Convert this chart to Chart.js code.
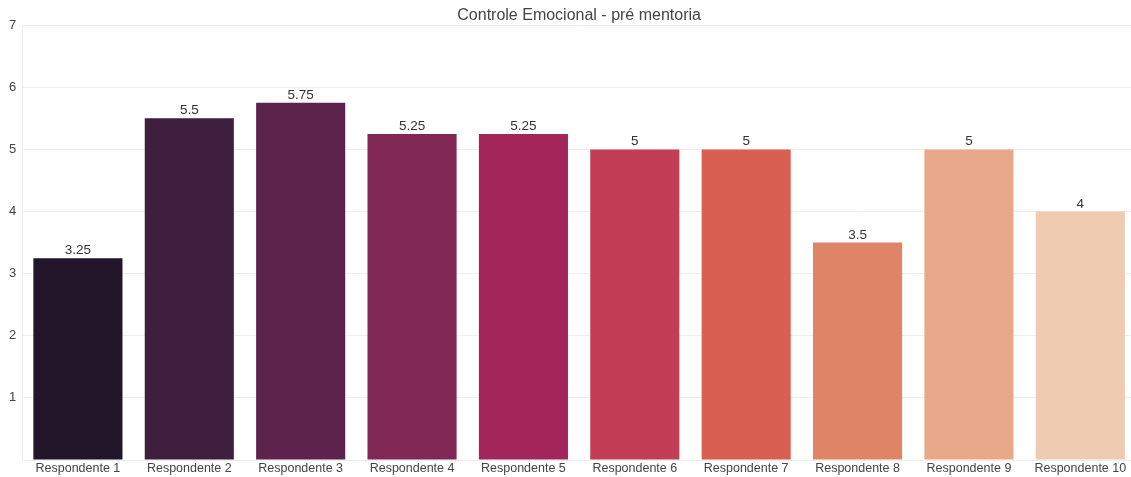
<!DOCTYPE html>
<html>
<head>
<meta charset="utf-8">
<script src="https://cdn.jsdelivr.net/npm/chart.js@4/dist/chart.umd.min.js"></script>
<style>
	html, body { margin: 0; padding: 0; background: #fff; overflow: hidden; }
	#wrap { width: 1140px; height: 477px; }
</style>
</head>
<body>
<div id="wrap"><canvas id="chart"></canvas></div>
<script>

const respondentes = [
	'Respondente 1', 'Respondente 2', 'Respondente 3', 'Respondente 4', 'Respondente 5',
	'Respondente 6', 'Respondente 7', 'Respondente 8', 'Respondente 9', 'Respondente 10'
];
const notas = [3.25, 5.5, 5.75, 5.25, 5.25, 5, 5, 3.5, 5, 4];
const cores = [
	'#211529', '#3e1f3d', '#5e234c', '#812756', '#a3265a',
	'#c23c54', '#d85f51', '#df8466', '#e7a98a', '#eecab1'
];
const yTicks = [0, 1, 2, 3, 4, 5, 6, 7];

const fonte = '"Liberation Sans", Arial, sans-serif';

// writes each bar's value just above it
const valueLabels = {
	id: 'valueLabels',
	afterDatasetsDraw(chart) {
		const ctx = chart.ctx;
		const meta = chart.getDatasetMeta(0);
		ctx.save();
		ctx.font = '13.5px ' + fonte;
		ctx.fillStyle = '#333333';
		ctx.textAlign = 'center';
		ctx.textBaseline = 'bottom';
		meta.data.forEach((bar, i) => {
			ctx.fillText(String(chart.data.datasets[0].data[i]), bar.x, bar.y - 1);
		});
		ctx.restore();
	}
};

new Chart(document.getElementById('chart'), {
	type: 'bar',
	plugins: [valueLabels],
	data: {
		labels: respondentes,
		datasets: [
			{
				data: notas,
				backgroundColor: cores,
				barPercentage: 0.8,
				categoryPercentage: 1.0
			}
		]
	},
	options: {
		responsive: true,
		maintainAspectRatio: false,
		animation: {
			duration: 0
		},
		layout: {
			padding: { left: 3, right: 4, top: 0, bottom: 0 }
		},
		scales: {
			x: {
				grid: { display: false, drawTicks: false },
				border: { display: false },
				ticks: {
					color: '#444',
					padding: 1,
					maxRotation: 0,
					autoSkip: false,
					font: { family: fonte, size: 12.5 }
				}
			},
			y: {
				min: 0,
				max: 7,
				afterBuildTicks: function(axis) {
					axis.ticks = yTicks.map(v => ({ value: v }));
				},
				grid: {
					color: '#eeeeee',
					drawTicks: false
				},
				border: { display: true, color: '#f0f0f0' },
				ticks: {
					color: '#444',
					padding: 6,
					font: { family: fonte, size: 13 },
					callback: function(value) {
						return value === 0 ? '' : value;
					}
				}
			}
		},
		plugins: {
			legend: { display: false },
			tooltip: { enabled: false },
			title: {
				display: true,
				fullSize: false,
				text: 'Controle Emocional - pré mentoria',
				color: '#444',
				font: { family: fonte, size: 16, weight: 'normal' },
				padding: { top: 6, bottom: 0 }
			}
		}
	}
});

</script>
</body>
</html>
